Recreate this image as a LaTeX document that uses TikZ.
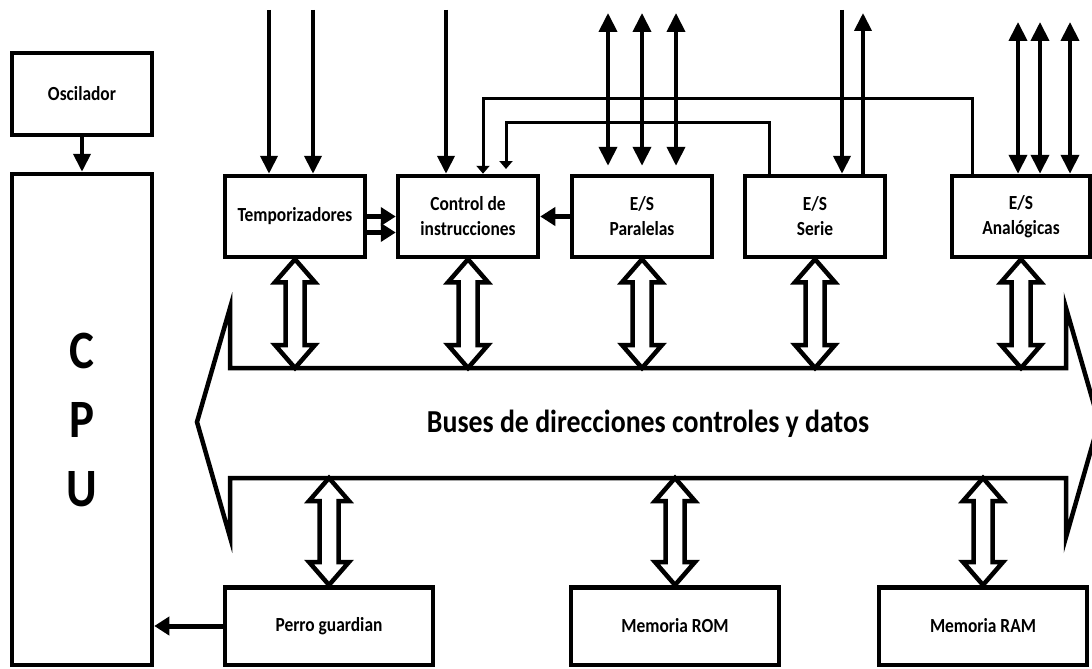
\documentclass[tikz,border=0pt]{standalone}
\usepackage{fontspec}
\setmainfont{Carlito}
\newfontfamily\lblfont[FakeStretch=0.87]{Carlito}
\usetikzlibrary{arrows.meta,calc,backgrounds}
\tikzset{
  box/.style={draw,line width=4.5pt,fill=white,minimum width=140pt,minimum height=81pt,
    inner sep=0pt,align=center,font=\lblfont\bfseries\fontsize{20}{25}\selectfont},
  sol/.style={line width=4pt,-{Triangle[length=18pt,width=17pt]}},
  dbl/.style={line width=4pt,{Triangle[length=19pt,width=18pt]}-{Triangle[length=19pt,width=18pt]}},
  fb/.style={line width=3pt,-{Triangle[length=8pt,width=13pt]}},
  side/.style={line width=5pt,-{Triangle[length=15pt,width=18pt]}},
  hol/.style={draw,line width=4.5pt,fill=white},
  busshape/.style={draw,line width=4.5pt,fill=white}
}
\newcommand\hollowarrow[2]{%
  \draw[hol] let \p1=(#1),\p2=(#2) in
    (\x1,\y1) -- (\x1+20pt,\y1-23pt) -- (\x1+9.5pt,\y1-23pt) -- (\x1+9.5pt,\y2+23pt)
    -- (\x1+20pt,\y2+23pt) -- (\x1,\y2) -- (\x1-20pt,\y2+23pt) -- (\x1-9.5pt,\y2+23pt)
    -- (\x1-9.5pt,\y1-23pt) -- (\x1-20pt,\y1-23pt) -- cycle;}
\begin{document}
\begin{tikzpicture}[x=1pt,y=-1pt]
\useasboundingbox (0,0) rectangle (1092,669);
% boxes
\node[box,minimum height=82pt] (osc) at (82,94) {Oscilador};
\node[box,minimum height=491pt,font=\lblfont\bfseries\fontsize{54}{69}\selectfont] (cpu) at (82,419.5) {C\\P\\U};
\node[box] (temp) at (295,216.5) {Temporizadores};
\node[box] (ctrl) at (468,216.5) {Control de\\instrucciones};
\node[box] (par) at (642,216.5) {E/S\\Paralelas};
\node[box] (ser) at (815,216.5) {E/S\\Serie};
\node[box,minimum width=138pt] (ana) at (1021,216.5) {E/S\\Analógicas};
\node[box,minimum width=208pt,minimum height=77.5pt] (perro) at (329,626) {Perro guardian};
\node[box,minimum width=208pt,minimum height=77.5pt] (rom) at (675,626) {Memoria ROM};
\node[box,minimum width=208pt,minimum height=77.5pt] (ram) at (983,626) {Memoria RAM};
% bus
\coordinate (bt) at (0,368);
\coordinate (bb) at (0,478);
\begin{pgfonlayer}{background}
\draw[busshape] (230,308) -- (230,368) -- (1066,368) -- (1066,308) -- (1099,422)
  -- (1066,537) -- (1066,478) -- (230,478) -- (230,537) -- (197,422) -- cycle;
\hollowarrow{temp.south}{temp.south |- bt}
\hollowarrow{ctrl.south}{ctrl.south |- bt}
\hollowarrow{par.south}{par.south |- bt}
\hollowarrow{ser.south}{ser.south |- bt}
\hollowarrow{ana.south}{ana.south |- bt}
\hollowarrow{perro.north |- bb}{perro.north}
\hollowarrow{rom.north |- bb}{rom.north}
\hollowarrow{ram.north |- bb}{ram.north}
\end{pgfonlayer}
\node[font=\lblfont\bfseries\fontsize{32}{36}\selectfont] (bus) at (648,424) {Buses de direcciones controles y datos};
% solid arrows
\draw[sol] (osc.south) -- (cpu.north);
\coordinate (ti1) at (269,10);
\coordinate (ti2) at (313,10);
\coordinate (ci) at (446,10);
\draw[sol] (ti1) -- (ti1 |- temp.north);
\draw[sol] (ti2) -- (ti2 |- temp.north);
\draw[sol] (ci) -- (ci |- ctrl.north);
% feedback lines
\coordinate (fo) at (972,98);
\coordinate (fo2) at (483,98);
\draw[fb] (fo |- ana.north) -- (fo) -- (fo2) -- (fo2 |- ctrl.north);
\coordinate (fi) at (769,122);
\coordinate (fi2) at (506,122);
\coordinate (fiend) at (506,169);
\draw[fb] (fi |- ser.north) -- (fi) -- (fi2) -- (fiend);
% parallel I/O
\coordinate (p1) at (608,13);
\coordinate (p2) at (642,13);
\coordinate (p3) at (676,13);
\draw[dbl,shorten >=8pt] (p1) -- (p1 |- par.north);
\draw[dbl,shorten >=8pt] (p2) -- (p2 |- par.north);
\draw[dbl,shorten >=8pt] (p3) -- (p3 |- par.north);
% serial I/O
\coordinate (sin) at (842,10);
\coordinate (sout) at (863,13);
\draw[sol] (sin) -- (sin |- ser.north);
\draw[sol] (sout |- ser.north) -- (sout);
% analog I/O
\coordinate (a1) at (1018,22);
\coordinate (a2) at (1040,22);
\coordinate (a3) at (1070,22);
\draw[dbl] (a1) -- (a1 |- ana.north);
\draw[dbl] (a2) -- (a2 |- ana.north);
\draw[dbl] (a3) -- (a3 |- ana.north);
% side arrows
\coordinate (t2) at ($(temp.east)+(0,16)$);
\draw[side] (temp.east) -- (temp.east -| ctrl.west);
\draw[side] (t2) -- (t2 -| ctrl.west);
\draw[side] (par.west) -- (par.west -| ctrl.east);
\draw[side] (perro.west) -- (perro.west -| cpu.east);
\end{tikzpicture}
\end{document}
